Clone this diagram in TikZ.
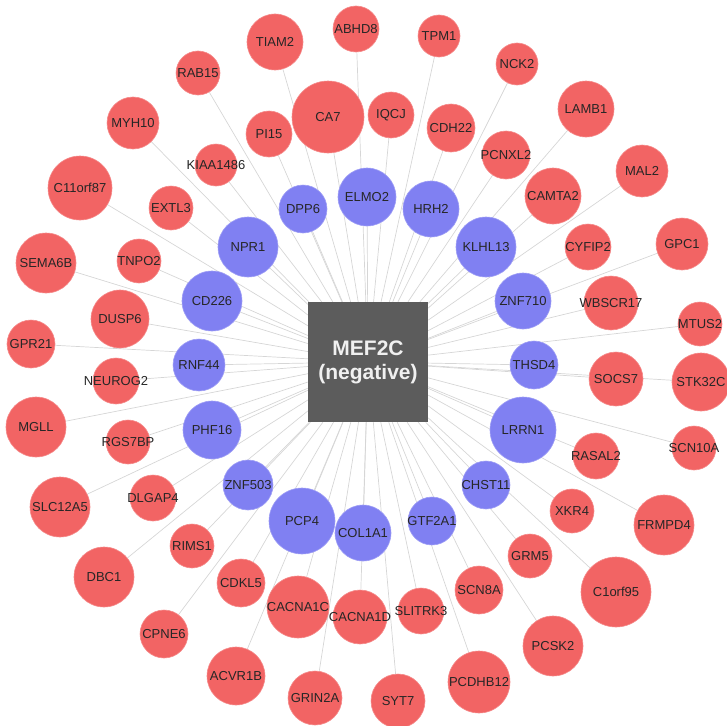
\documentclass[tikz,border=0pt]{standalone}
\usepackage{fontspec}
\setmainfont{Liberation Sans}
\usepackage{tikz}
\usetikzlibrary{backgrounds}
\definecolor{genered}{RGB}{242,100,100}
\definecolor{geneblue}{RGB}{128,128,242}
\definecolor{edgegray}{RGB}{214,214,214}
\definecolor{hubgray}{RGB}{92,92,92}
\newcommand{\genes}{%
DPP6/303/209/24/geneblue, ELMO2/367/197/29/geneblue, HRH2/431/209/28/geneblue,
KLHL13/486/247/30/geneblue, ZNF710/523/301/28/geneblue, THSD4/534/365/24/geneblue,
LRRN1/523/430/33/geneblue, CHST11/486/485/24/geneblue, GTF2A1/432/521/24/geneblue,
COL1A1/363/533/28/geneblue, PCP4/302/521/33/geneblue, ZNF503/248/485/25/geneblue,
PHF16/212/430/29/geneblue, RNF44/199/365/26/geneblue, CD226/212/301/30/geneblue,
NPR1/248/247/30/geneblue,
CA7/328/117/36/genered, PI15/269/134/23/genered, IQCJ/391/115/23/genered,
CDH22/451/128/24/genered, PCNXL2/506/155/24/genered, CAMTA2/553/196/28/genered,
CYFIP2/588/247/23/genered, WBSCR17/611/303/27/genered, SOCS7/616/379/27/genered,
RASAL2/596/456/23/genered, XKR4/572/511/22/genered, GRM5/530/556/22/genered,
SCN8A/479/590/24/genered, SLITRK3/421/611/23/genered, CACNA1D/360/617/27/genered,
CACNA1C/298/607/31/genered, CDKL5/241/583/24/genered, RIMS1/192/546/22/genered,
DLGAP4/153/498/23/genered, RGS7BP/128/442/22/genered, NEUROG2/116/381/23/genered,
DUSP6/120/319/29/genered, TNPO2/139/261/22/genered, EXTL3/171/208/22/genered,
KIAA1486/216/165/21/genered,
TIAM2/275/42/28/genered, ABHD8/356/29/23/genered, TPM1/439/36/21/genered,
NCK2/517/64/21/genered, LAMB1/586/109/28/genered, MAL2/642/171/26/genered,
GPC1/682/244/26/genered, MTUS2/700/324/22/genered, STK32C/701/382/29/genered,
SCN10A/694/448/22/genered, FRMPD4/664/525/30/genered, C1orf95/616/592/35/genered,
PCSK2/553/646/30/genered, PCDHB12/479/682/31/genered, SYT7/398/701/27/genered,
GRIN2A/315/698/27/genered, ACVR1B/236/676/29/genered, CPNE6/164/634/24/genered,
DBC1/104/577/30/genered, SLC12A5/60/507/30/genered, MGLL/36/427/30/genered,
GPR21/31/344/24/genered, SEMA6B/46/263/30/genered, C11orf87/80/188/32/genered,
MYH10/133/123/26/genered, RAB15/198/73/22/genered}

\begin{document}
\begin{tikzpicture}[x=1pt,y=-1pt,
  gene/.style={circle,inner sep=0pt,minimum size={2*#1*1pt},line width=0.6pt},
  genetext/.style={font=\fontsize{13}{15}\selectfont,text=black!85,inner sep=0pt},
  hub/.style={rectangle,fill=hubgray,minimum size=120pt,inner sep=0pt,align=center,
    text=white!94!black,font=\bfseries\fontsize{21}{24}\selectfont},
  edge/.style={draw=edgegray,line width=0.7pt}]
\useasboundingbox (0,0) rectangle (727,725);
\node[hub] (MEF2C) at (368,362) {MEF2C\\(negative)};
\foreach \g/\x/\y/\r/\c in \genes
  \node[gene=\r,fill=\c,draw=\c!75!white,label={[genetext]center:\g}] (\g) at (\x,\y) {};
\begin{scope}[on background layer]
\foreach \g/\x/\y/\r/\c in \genes
  \draw[edge] (MEF2C) -- (\g);
\end{scope}
\end{tikzpicture}
\end{document}
